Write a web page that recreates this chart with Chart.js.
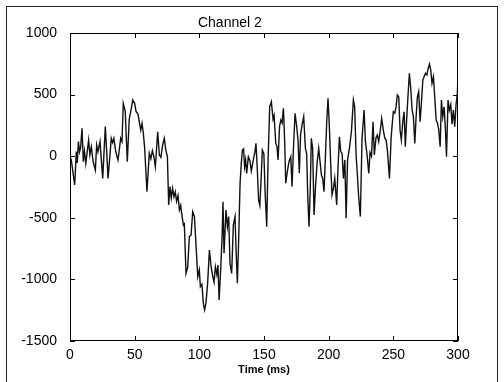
<!DOCTYPE html>
<html>
<head>
<meta charset="utf-8">
<script src="https://cdn.jsdelivr.net/npm/chart.js@4.4.0/dist/chart.umd.min.js"></script>
<style>
  html, body { margin: 0; padding: 0; background: #fff; overflow: hidden; }
  #wrap { position: relative; width: 504px; height: 382px; }
  #frame { position: absolute; left: 6px; top: 6px; width: 490px; height: 400px; border: 1px solid #222; pointer-events: none; }
</style>
</head>
<body>
<div id="wrap">
  <canvas id="chart" width="504" height="382"></canvas>
  <div id="frame"></div>
</div>
<script>
// values
const timeMs = [
  0, 1, 3.6, 4.9, 5.6, 6.5, 7.4, 8.2, 9.3, 10.3, 11.2, 12.2, 14.4, 15.4, 16.5, 17.9, 19.6, 20.6, 21.6, 23.2,
  25.3, 27.3, 28.4, 29.4, 30.8, 31.9, 32.9, 33.9, 35.4, 37.1, 39.2, 40.2, 41.2, 42.7, 44.3, 45.8, 47.0, 48.5, 50.0, 51.0,
  52.6, 54.7, 55.7, 56.7, 57.7, 59.5, 61.3, 62.5, 63.7, 64.9, 66.0, 67.8, 69.1, 70.3, 71.6, 72.9, 74.1, 75.3, 76.3, 77.3,
  78.3, 79.3, 80.4, 81.4, 82.4, 83.5, 84.6, 85.6, 86.7, 87.7, 88.4, 89.7, 91.0, 92.3, 93.6, 94.9, 96.2, 97.5, 98.8, 100.0,
  100.8, 102.0, 103.1, 104.1, 105.1, 106.4, 107.8, 109.1, 110.4, 111.4, 112.4, 113.5, 114.4, 115.3, 116.6, 117.6, 118.3, 119.1, 120.6, 121.7,
  122.7, 123.7, 125.0, 126.3, 127.6, 128.4, 129.4, 130.2, 131.5, 132.5, 133.3, 134.2, 135.0, 135.8, 136.6, 137.9, 139.2, 140.2, 141.9, 142.8,
  143.8, 144.8, 145.8, 146.8, 147.9, 148.7, 149.9, 150.9, 152.1, 153.1, 154.4, 155.7, 157.0, 157.8, 159.1, 160.0, 160.9, 162.0, 163.0, 164.0,
  165.0, 166.0, 166.8, 168.1, 169.4, 170.7, 171.7, 172.8, 174.0, 175.3, 176.3, 177.3, 178.3, 179.4, 180.7, 182.0, 183.0, 183.8, 184.8, 185.8,
  186.6, 187.6, 188.7, 189.8, 191.1, 192.3, 193.3, 194.4, 195.4, 196.4, 197.5, 198.5, 199.5, 200.5, 201.6, 202.6, 203.7, 204.7, 206.2, 207.2,
  208.3, 209.3, 210.4, 211.4, 212.5, 213.5, 214.6, 216.1, 217.6, 219.1, 220.1, 221.2, 222.2, 223.2, 224.5, 225.8, 227.4, 228.4, 229.7, 231.0,
  232.0, 233.1, 234.3, 235.3, 236.6, 237.6, 238.7, 239.8, 241.0, 242.3, 243.3, 244.4, 245.4, 247.0, 248.3, 249.3, 250.0, 251.1, 252.1, 253.1,
  254.2, 255.2, 256.2, 257.3, 258.3, 259.3, 260.3, 261.4, 262.4, 263.4, 264.5, 265.5, 266.6, 267.6, 268.6, 269.6, 270.7, 271.7, 272.8, 273.8,
  274.8, 275.9, 276.9, 277.9, 278.9, 279.9, 281.0, 282.0, 283.1, 284.1, 285.1, 286.2, 287.2, 288.2, 289.3, 290.3, 291.1, 292.3, 293.3, 294.4,
  295.4, 296.4, 297.5, 298.5, 299.5, 300
];
const channel2 = [
  -4, -30, -234, 37, -55, 118, 36, 70, 226, -45, 40, -60, 131, 10, 77, -45, -112, 90, 36, 118,
  -180, 240, 30, -180, -5, 145, 110, 145, 36, -32, 145, 118, 429, 365, -45, 300, 365, 456, 429, 365,
  340, 212, 266, 185, 70, -288, 23, -20, 45, -5, -85, 199, 10, -9, 90, 145, 50, -4, -396, -247,
  -340, -261, -330, -290, -366, -320, -437, -400, -490, -560, -550, -951, -900, -653, -640, -450, -490, -734, -978, -923,
  -1059, -1040, -1194, -1248, -1194, -1032, -761, -897, -977, -1023, -897, -960, -883, -1167, -900, -653, -369, -788, -437, -572,
  -490, -869, -951, -558, -490, -761, -1032, -761, -220, -50, 50, 60, -85, -30, -139, -4, -40, -120, -20, 23,
  104, -100, -355, -400, -150, 50, 20, -300, -572, -50, 402, 442, 300, 330, 104, 80, -31, 240, 294, 270,
  389, 120, -220, -120, -40, -4, -247, 70, 348, 240, 130, -139, 180, 253, 321, 64, 20, -315, -572, -250,
  145, 60, -477, -250, -50, 64, -40, -153, -180, -288, 0, 280, 470, 250, -71, -315, -260, -180, -396, -100,
  158, 40, 20, -180, -30, -504, -30, 70, 200, 456, 400, 10, -150, -330, -490, 145, 375, 120, 10, -139,
  30, 0, 280, 10, 150, 172, 118, 199, 307, 210, 150, 131, 50, -180, 150, 280, 361, 350, 400, 497,
  480, 212, 131, 280, 361, 77, 300, 500, 673, 560, 380, 320, 104, 320, 480, 524, 280, 430, 618, 645,
  673, 660, 710, 748, 700, 592, 645, 480, 294, 270, 215, 77, 456, 320, 400, 215, -4, 456, 375, 420,
  260, 375, 240, 420, 510, 645
];

const titleText = "Channel 2";
const xLabel = "Time (ms)";

const points = timeMs.map((t, i) => ({ x: t, y: channel2[i] }));

// box round the axes with ticks pointing in, on all four sides
const matlabBox = {
  id: "matlabBox",
  afterDraw(chart) {
    const { ctx, chartArea: a, scales } = chart;
    ctx.save();
    ctx.strokeStyle = "#000";
    ctx.lineWidth = 1;
    ctx.strokeRect(a.left + 0.5, a.top + 0.5, a.right - a.left - 1, a.bottom - a.top - 1);
    ctx.beginPath();
    scales.x.ticks.forEach(t => {
      const px = Math.round(scales.x.getPixelForValue(t.value)) + 0.5;
      ctx.moveTo(px, a.bottom); ctx.lineTo(px, a.bottom - 5);
      ctx.moveTo(px, a.top); ctx.lineTo(px, a.top + 5);
    });
    scales.y.ticks.forEach(t => {
      const py = Math.round(scales.y.getPixelForValue(t.value)) + 0.5;
      ctx.moveTo(a.left, py); ctx.lineTo(a.left + 5, py);
      ctx.moveTo(a.right, py); ctx.lineTo(a.right - 5, py);
    });
    ctx.stroke();
    ctx.fillStyle = "#000";
    ctx.font = "14px 'Liberation Sans', Arial, sans-serif";
    ctx.textAlign = "center";
    ctx.textBaseline = "alphabetic";
    ctx.fillText(titleText, a.left + (a.right - a.left) * 0.412, 27);
    ctx.restore();
  }
};

new Chart(document.getElementById("chart"), {
  type: "line",
  data: {
    datasets: [{
      data: points,
      borderColor: "#111",
      borderWidth: 1.4,
      pointRadius: 0,
      tension: 0,
      fill: false
    }]
  },
  options: {
    responsive: false,
    animation: false,
    layout: { padding: { top: 33, right: 46, left: 0, bottom: 0 } },
    plugins: { legend: { display: false }, tooltip: { enabled: false }, title: { display: false } },
    scales: {
      x: {
        type: "linear",
        min: 0,
        max: 300,
        grid: { display: false },
        border: { display: false },
        ticks: { stepSize: 50, color: "#000", padding: -2, maxRotation: 0, autoSkip: false,
          callback: v => String(v),
          font: { family: "'Liberation Sans', Arial, sans-serif", size: 14 } },
        title: { display: true, text: xLabel, color: "#000", padding: { top: 0, bottom: 5 },
          font: { family: "'Liberation Sans', Arial, sans-serif", size: 11, weight: "bold" } },
        afterFit: s => { s.height = 41; }
      },
      y: {
        min: -1500,
        max: 1000,
        grid: { display: false },
        border: { display: false },
        ticks: { stepSize: 500, color: "#000", padding: 5,
          callback: v => String(v),
          font: { family: "'Liberation Sans', Arial, sans-serif", size: 14 } },
        afterFit: s => { s.width = 70; }
      }
    }
  },
  plugins: [matlabBox]
});
</script>
</body>
</html>
